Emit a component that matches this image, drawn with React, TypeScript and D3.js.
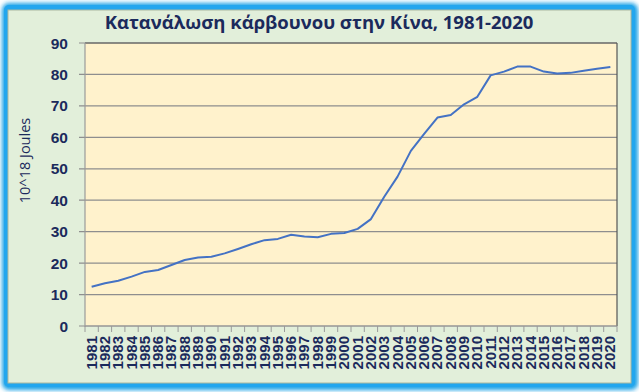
import React from "react";
import * as d3 from "d3";

const years: string[] = d3.range(1981, 2021).map(String);
const coal: number[] = [
  12.5, 13.6, 14.4, 15.7, 17.2, 17.8, 19.4, 21.0, 21.8, 22.0,
  23.1, 24.5, 26.0, 27.3, 27.7, 29.0, 28.5, 28.2, 29.3, 29.6,
  30.9, 34.0, 41.1, 47.5, 55.7, 61.1, 66.3, 67.1, 70.5, 72.9,
  79.7, 80.9, 82.5, 82.5, 80.9, 80.3, 80.5, 81.2, 81.8, 82.4,
];
const yTicks: number[] = d3.range(0, 100, 10);
const title = "Κατανάλωση κάρβουνου στην Κίνα, 1981-2020";
const yLabel = "10^18 Joules";

const W = 639, H = 392;
const plot = { left: 85, right: 617, top: 43, bottom: 326 };
const navy = "#1b2a5c";

export default function App() {
  const x = d3.scaleBand<string>().domain(years).range([plot.left, plot.right]);
  const y = d3.scaleLinear().domain([0, 90]).range([plot.bottom, plot.top]);
  const line = d3
    .line<number>()
    .x((_, i) => (x(years[i]) as number) + x.bandwidth() / 2)
    .y((d) => y(d));
  const boundaries = d3.range(0, years.length + 1).map((i) => plot.left + i * x.step());

  return (
    <svg width={W} height={H} style={{ position: "absolute", left: 0, top: 0 }}>
      <defs>
        <filter id="glow" x="-10%" y="-10%" width="120%" height="120%">
          <feGaussianBlur stdDeviation="2" />
        </filter>
      </defs>
      <rect x={0} y={0} width={W} height={H} fill="#ffffff" />
      <rect x={2} y={3} width={636} height={387} rx={7} fill="#1ea2e6" filter="url(#glow)" />
      <rect x={4} y={5} width={631} height={382} rx={5} fill="#22a6ee" />
      <rect x={8} y={10} width={623} height={373} fill="#e2efda" stroke="#a9b7a0" strokeWidth={1} />
      <text
        x={319}
        y={29}
        textAnchor="middle"
        fontFamily="'Open Sans', 'DejaVu Sans', sans-serif"
        fontWeight="bold"
        fontSize={18.5}
        fill={navy}
      >
        {title}
      </text>
      <rect
        x={plot.left}
        y={plot.top}
        width={plot.right - plot.left}
        height={plot.bottom - plot.top}
        fill="#fff2cc"
      />
      {yTicks.map((t) => (
        <g key={t}>
          <line x1={79} x2={plot.right} y1={y(t)} y2={y(t)} stroke="#8e8e8e" strokeWidth={1.2} />
          <text
            x={68}
            y={y(t)}
            dy="0.36em"
            textAnchor="end"
            fontFamily="'Liberation Sans', Arial, sans-serif"
            fontWeight="bold"
            fontSize={15.5}
            fill={navy}
          >
            {t}
          </text>
        </g>
      ))}
      <line x1={plot.left} x2={plot.right} y1={plot.top} y2={plot.top} stroke="#555" strokeWidth={1.2} />
      <line x1={plot.right} x2={plot.right} y1={plot.top} y2={plot.bottom} stroke="#555" strokeWidth={1.2} />
      <line x1={plot.left} x2={plot.left} y1={plot.top} y2={plot.bottom + 1} stroke="#9a9a9a" strokeWidth={1.2} />
      <line x1={plot.left} x2={plot.right} y1={plot.bottom} y2={plot.bottom} stroke="#9a9a9a" strokeWidth={1.2} />
      {boundaries.map((bx, i) => (
        <line key={i} x1={bx} x2={bx} y1={plot.bottom} y2={plot.bottom + 6} stroke="#9a9a9a" strokeWidth={1} />
      ))}
      {years.map((yr) => {
        const cx = (x(yr) as number) + x.bandwidth() / 2;
        return (
          <text
            key={yr}
            transform={`translate(${cx + 5},${plot.bottom + 10}) rotate(-90)`}
            textAnchor="end"
            fontFamily="'Liberation Sans', Arial, sans-serif"
            fontWeight="bold"
            fontSize={15}
            fill={navy}
          >
            {yr}
          </text>
        );
      })}
      <text
        transform={`translate(30,${(plot.top + plot.bottom) / 2 - 24}) rotate(-90)`}
        textAnchor="middle"
        fontFamily="'Open Sans', 'DejaVu Sans', sans-serif"
        fontSize={14.5}
        fontWeight={500}
        fill={navy}
      >
        {yLabel}
      </text>
      <path d={line(coal) as string} fill="none" stroke="#4472c4" strokeWidth={2} strokeLinejoin="round" />
    </svg>
  );
}
